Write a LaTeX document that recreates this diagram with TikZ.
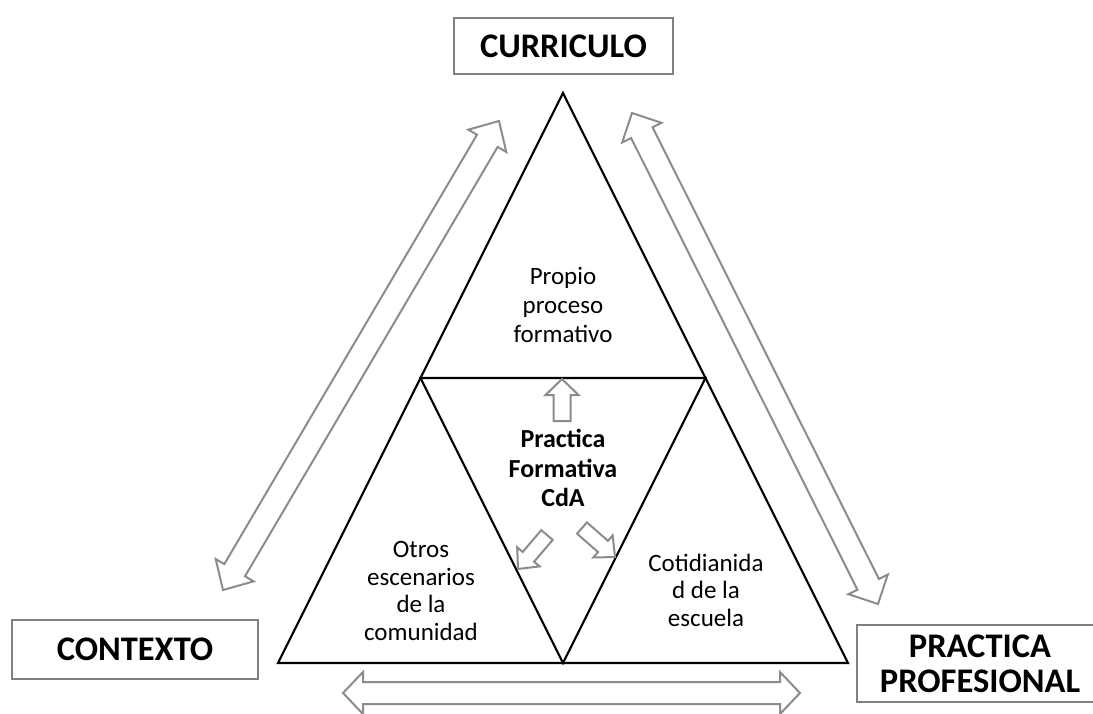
\documentclass[tikz,border=0pt]{standalone}
\usepackage{fontspec}
\setmainfont{Carlito}
\usetikzlibrary{calc}
\definecolor{boxgray}{RGB}{128,128,128}
\definecolor{arrgray}{RGB}{140,140,140}
\tikzset{
  tri/.style={draw=black, line width=2.2pt},
  barrow/.style={draw=arrgray, line width=2pt, fill=white},
  boxn/.style={draw=boxgray, line width=2pt, fill=white, inner sep=0pt,
    font=\bfseries\fontsize{34.5}{35}\selectfont},
  lbl/.style={align=center, inner sep=0pt, font=\fontsize{25}{29}\selectfont},
  lblb/.style={align=center, inner sep=0pt, font=\bfseries\fontsize{26}{29.5}\selectfont},
}
\newcommand\dblarrow[5]{%
  \coordinate (#1h) at ($(#1)!#5!(#2)$);
  \coordinate (#2h) at ($(#2)!#5!(#1)$);
  \draw[barrow] (#1) -- ($(#1h)!#4!90:(#2)$) -- ($(#1h)!#3!90:(#2)$)
    -- ($(#2h)!#3!-90:(#1)$) -- ($(#2h)!#4!-90:(#1)$) -- (#2)
    -- ($(#2h)!#4!90:(#1)$) -- ($(#2h)!#3!90:(#1)$)
    -- ($(#1h)!#3!-90:(#2)$) -- ($(#1h)!#4!-90:(#2)$) -- cycle;}
\newcommand\sglarrow[5]{%
  \coordinate (#2h) at ($(#2)!#5!(#1)$);
  \draw[barrow] ($(#1)!#3!90:(#2)$) -- ($(#2h)!#3!90:(#2)$) -- ($(#2h)!#4!90:(#2)$)
    -- (#2) -- ($(#2h)!#4!-90:(#2)$) -- ($(#2h)!#3!-90:(#2)$)
    -- ($(#1)!#3!-90:(#2)$) -- cycle;}
\begin{document}
\begin{tikzpicture}[x=1pt, y=-1pt]
\useasboundingbox (0,0) rectangle (1093,713);
\clip (0,0) rectangle (1093,713);
\fill[white] (0,0) rectangle (1093,713);

% triangles
\coordinate (T) at (563,93);
\coordinate (L) at (278,663);
\coordinate (R) at (848,663);
\coordinate (ML) at (420.5,378);
\coordinate (MR) at (705.5,378);
\coordinate (MB) at (563,663);
\draw[tri] (T) -- (R) -- (L) -- cycle;
\draw[tri] (ML) -- (MR) -- (MB) -- cycle;

% boxes
\node[boxn, minimum width=219pt, minimum height=56pt] (cur) at (563.5,46) {CURRICULO};
\node[boxn, minimum width=246pt, minimum height=59pt] (ctx) at (135,649.5) {CONTEXTO};
\node[boxn, minimum width=246pt, minimum height=77pt, align=center] (pro) at (980,663.5) {PRACTICA\\PROFESIONAL};

% outer double arrows
\coordinate (la) at (223,590);
\coordinate (lb) at (499,121);
\coordinate (ra) at (632,113);
\coordinate (rb) at (878,604);
\coordinate (ba) at (343,693);
\coordinate (bb) at (800,693);
\dblarrow{la}{lb}{12pt}{22pt}{23pt}
\dblarrow{ra}{rb}{12pt}{22pt}{22pt}
\dblarrow{ba}{bb}{11pt}{21pt}{20pt}

% inner arrows
\coordinate (ua) at (562,421);
\coordinate (ub) at (562,379);
\coordinate (dla) at (547,535);
\coordinate (dlb) at (518,569);
\coordinate (dra) at (582,528);
\coordinate (drb) at (615,557);
\sglarrow{ua}{ub}{8.5pt}{16.5pt}{16pt}
\sglarrow{dla}{dlb}{7.5pt}{14.7pt}{16pt}
\sglarrow{dra}{drb}{7.5pt}{14.7pt}{16pt}

% labels
\node[lbl] (pp) at (563,305) {Propio\\proceso\\formativo};
\node[lblb] (pf) at (563,468) {Practica\\Formativa\\CdA};
\node[lbl, font=\fontsize{25}{27.7}\selectfont] (oe) at (421,591) {Otros\\escenarios\\de la\\comunidad};
\node[lbl, font=\fontsize{25}{27.5}\selectfont] (cd) at (706,590) {Cotidianida\\d de la\\escuela};
\end{tikzpicture}
\end{document}
